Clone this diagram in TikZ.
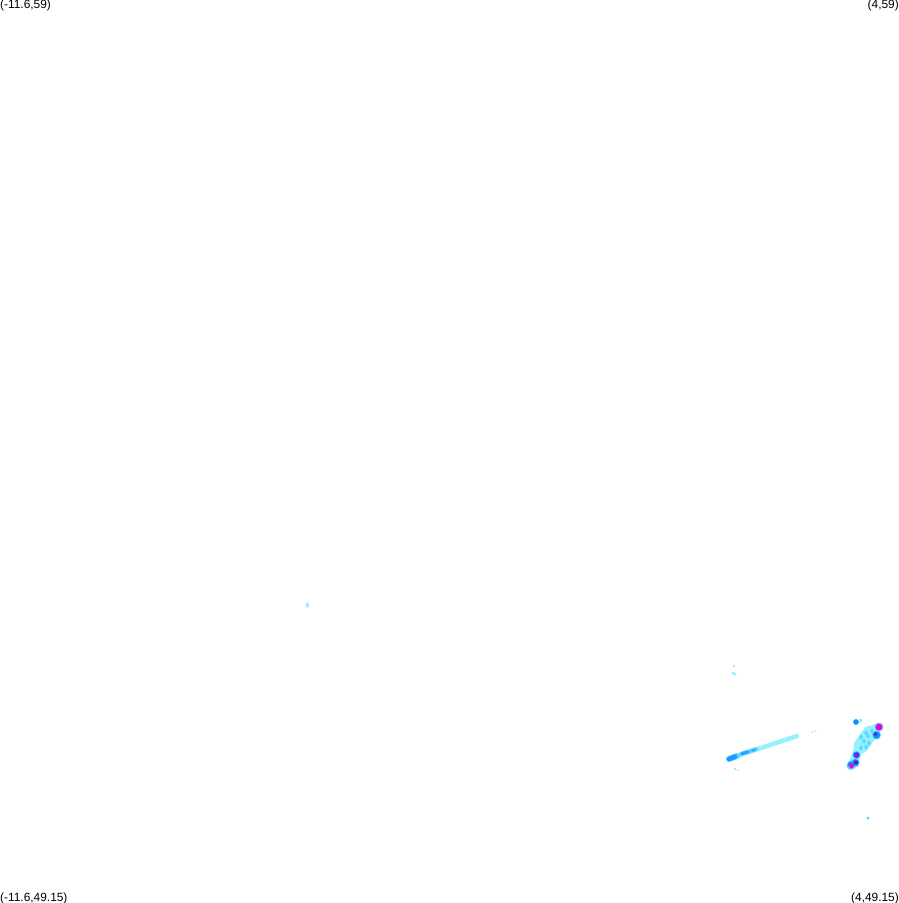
\documentclass[tikz,border=0pt]{standalone}
\usepackage{fontspec}
\setmainfont{Liberation Sans}
\definecolor{paleCyan}{RGB}{150,240,255}
\definecolor{midCyan}{RGB}{90,215,255}
\definecolor{deepBlue}{RGB}{20,140,255}
\definecolor{hotPink}{RGB}{235,0,215}
\definecolor{darkViolet}{RGB}{85,30,225}
\tikzset{
    cornerlabel/.style={inner sep=0pt, font=\fontsize{11.9}{14}\selectfont},
    streak/.style={line cap=round, line width=#1},
}
\begin{document}
\begin{tikzpicture}[x=1pt, y=-1pt]
    \useasboundingbox (0, 0) rectangle (899, 903);

    % Add labels at the corners
    \node[cornerlabel, anchor=west] (topleft) at (0, 5.5) {(-11.6,59)};
    \node[cornerlabel, anchor=east] (topright) at (899, 5.5) {(4,59)};
    \node[cornerlabel, anchor=west] (bottomleft) at (0, 898.5) {(-11.6,49.15)};
    \node[cornerlabel, anchor=east] (bottomright) at (899, 898.5) {(4,49.15)};

    % Draw the long streak
    \draw[paleCyan, streak=4.5pt] (731, 758) -- (797, 736);
    \draw[midCyan, streak=4pt] (741, 754) -- (756, 749);
    \draw[deepBlue!70!midCyan, streak=3pt] (742, 753.6) -- (748, 752);
    \draw[deepBlue!60!midCyan, streak=2pt] (752, 750.8) -- (755, 749.8);
    \draw[midCyan, streak=6pt] (729, 759) -- (737, 756);
    \draw[deepBlue!85!midCyan, streak=4.5pt] (729, 759) -- (735, 756.6);

    % Draw the cloud at the right
    \draw[paleCyan, streak=15pt] (870, 733) -- (861, 746);
    \draw[paleCyan, streak=10pt] (875, 729) -- (866, 740);
    \draw[paleCyan, streak=9pt] (858, 750) -- (853, 764);
    \foreach \x/\y in {868/736, 864/741, 869/743, 861/748, 866/733, 872/731, 861/737, 866/747}
        \fill[midCyan] (\x, \y) ellipse (1.6 and 2.4);

    % Draw the dense spots
    \foreach \x/\y/\r in {879/727/4.5, 876.5/735/4.5, 856.5/755/4, 855/763/4.5, 851/765.5/4.5, 856/722/3}
        \fill[midCyan] (\x, \y) circle (\r);
    \foreach \x/\y/\r in {876.5/735/3.6, 856.5/755/3.4, 855.5/762.5/3.4, 851/764.5/3.2, 856/722/2.6}
        \fill[deepBlue] (\x, \y) circle (\r);
    \fill[darkViolet] (856.5, 755) circle (2.4);
    \fill[darkViolet] (856, 762.5) circle (2.2);
    \fill[darkViolet] (875.5, 734) circle (1.8);
    \fill[hotPink] (879, 727) circle (3.4);
    \fill[hotPink] (851.5, 766) circle (2.3);
    \fill[hotPink] (856, 755) circle (1.5);

    % Draw the stray specks
    \fill[paleCyan] (860.5, 720.5) circle (2);
    \fill[paleCyan] (734, 666) circle (1.4);
    \fill[paleCyan] (733, 673) circle (1.6);
    \fill[paleCyan] (735, 674) circle (1.6);
    \fill[paleCyan] (735, 769) circle (1.4);
    \fill[paleCyan] (738, 770) circle (1);
    \fill[paleCyan] (812, 732) circle (1);
    \fill[paleCyan] (815, 731) circle (1);
    \fill[paleCyan] (307.5, 605) ellipse (1.5 and 2.8);
    \fill[midCyan] (868, 818) circle (1.5);
    \fill[deepBlue] (868, 818) circle (.7);

\end{tikzpicture}
\end{document}
